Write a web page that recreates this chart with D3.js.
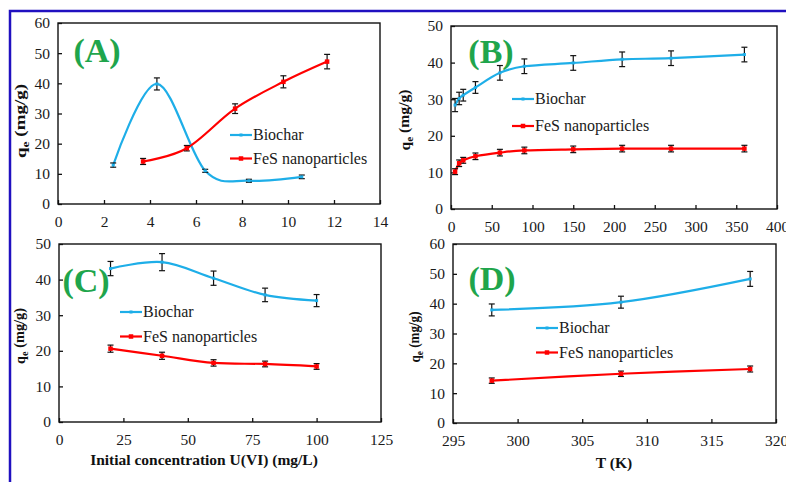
<!DOCTYPE html>
<html>
<head>
<meta charset="utf-8">
<script src="https://cdn.jsdelivr.net/npm/d3@7"></script>
<style>
  body { margin: 0; background: #fff; }
</style>
</head>
<body>
<div id="svganchor"></div>
<script>
let width = 786;
let height = 482;

// (A) initial pH
let phBiochar = [2.4, 4.3, 6.4, 8.3, 10.6];
let qBiocharA = [12.9, 39.8, 11.0, 7.7, 9.0];
let errBiocharA = [0.7, 2.0, 0.5, 0.5, 0.6];
let phFeS = [3.7, 5.6, 7.7, 9.8, 11.7];
let qFeSA = [14.1, 18.5, 31.6, 40.5, 47.2];
let errFeSA = [1.0, 0.9, 1.6, 2.0, 2.4];

// (B) contact time
let timeMin = [5, 10, 15, 30, 60, 90, 150, 210, 270, 360];
let qBiocharB = [28.4, 30.2, 31.1, 33.2, 37.2, 39.0, 39.9, 40.9, 41.2, 42.2];
let errBiocharB = [1.8, 1.7, 1.6, 1.6, 2.0, 2.0, 2.0, 2.0, 2.0, 2.0];
let qFeSB = [10.2, 12.5, 13.3, 14.4, 15.4, 16.0, 16.3, 16.5, 16.5, 16.5];
let errFeSB = [0.8, 0.9, 0.8, 0.9, 0.9, 0.9, 0.9, 0.9, 0.9, 0.9];

// (C) initial concentration
let concU = [20, 40, 60, 80, 100];
let qBiocharC = [43.1, 44.9, 40.4, 35.7, 34.1];
let errBiocharC = [2.0, 2.4, 2.0, 1.9, 1.7];
let qFeSC = [20.6, 18.6, 16.6, 16.3, 15.6];
let errFeSC = [1.0, 1.0, 0.9, 0.8, 0.8];

// (D) temperature
let tempK = [298, 308, 318];
let qBiocharD = [37.9, 40.5, 48.3];
let errBiocharD = [2.0, 2.0, 2.5];
let qFeSD = [14.2, 16.5, 18.1];
let errFeSD = [0.9, 0.9, 1.0];

let seriesNames = ["Biochar", "FeS nanoparticles"];
let panelLabels = ["(A)", "(B)", "(C)", "(D)"];
let xTitles = ["", "", "Initial concentration  U(VI)  (mg/L)", "T (K)"];
let yTitle = "(mg/g)";

let blue = "#1eaee8";
let red = "#ff0000";
let green = "#1fa54c";
let fontFam = "Times New Roman";

function pts(xs, ys, es) {
  return xs.map(function (x, i) { return { x: x, y: ys[i], e: es[i] }; });
}

let panels = [
  { box: [58, 380, 23, 204], xd: [0, 14], xstep: 2, yd: [0, 60], ystep: 10,
    bio: pts(phBiochar, qBiocharA, errBiocharA), fes: pts(phFeS, qFeSA, errFeSA),
    lab: [97, 62], leg: [230, 135], ytx: 21, yty: 121, ytl: 74 },
  { box: [451, 777, 26, 209], xd: [0, 400], xstep: 50, yd: [0, 50], ystep: 10,
    bio: pts(timeMin, qBiocharB, errBiocharB), fes: pts(timeMin, qFeSB, errFeSB),
    lab: [491, 63], leg: [512, 99], ytx: 405, yty: 120, ytl: 61 },
  { box: [59, 381, 244, 422], xd: [0, 125], xstep: 25, yd: [0, 50], ystep: 10,
    bio: pts(concU, qBiocharC, errBiocharC), fes: pts(concU, qFeSC, errFeSC),
    lab: [86, 292], leg: [120, 312], ytx: 20, yty: 336, ytl: 56, xt: [204, 465] },
  { box: [453, 776, 244, 423], xd: [295, 320], xstep: 5, yd: [0, 60], ystep: 10,
    bio: pts(tempK, qBiocharD, errBiocharD), fes: pts(tempK, qFeSD, errFeSD),
    lab: [492, 290], leg: [536, 328], ytx: 415, yty: 337, ytl: 51, xt: [614, 468] }
];

let svg = d3.select("#svganchor").append("svg").attr("width", width).attr("height", height)
  .style("display", "block");

// blue frame (left and top only)
svg.append("path")
  .attr("d", "M10,482V11H786")
  .attr("fill", "none")
  .attr("stroke", "#2010c0")
  .attr("stroke-width", 2.5);

function serifText(sel) {
  return sel.attr("font-family", fontFam).style("font-family", fontFam);
}

panels.forEach(function (p, idx) {
  let [x0, x1, y0, y1] = p.box;
  let xScale = d3.scaleLinear().domain(p.xd).range([x0, x1]);
  let yScale = d3.scaleLinear().domain(p.yd).range([y1, y0]);
  let g = svg.append("g");

  let xAxis = d3.axisBottom(xScale)
    .tickValues(d3.range(p.xd[0], p.xd[1] + 0.001, p.xstep))
    .tickSizeInner(-4).tickSizeOuter(0).tickPadding(12);
  let yAxis = d3.axisLeft(yScale)
    .tickValues(d3.range(p.yd[0], p.yd[1] + 0.001, p.ystep))
    .tickSizeInner(-4).tickSizeOuter(0).tickPadding(8);

  let gx = g.append("g").attr("transform", "translate(0," + y1 + ")").call(xAxis);
  let gy = g.append("g").attr("transform", "translate(" + x0 + ",0)").call(yAxis);
  [gx, gy].forEach(function (a) {
    serifText(a);
    a.select(".domain").remove();
    serifText(a.selectAll("text")).attr("font-size", 15.5).attr("fill", "#1a1a1a");
    a.selectAll("line").attr("stroke", "#111").attr("stroke-width", 1.3);
  });

  // plot box
  g.append("rect")
    .attr("x", x0).attr("y", y0).attr("width", x1 - x0).attr("height", y1 - y0)
    .attr("fill", "none").attr("stroke", "#111").attr("stroke-width", 1.4);

  // y title
  let yt = serifText(g.append("text"))
    .attr("transform", "translate(" + p.ytx + "," + p.yty + ") rotate(-90)")
    .attr("text-anchor", "middle")
    .attr("dy", "0.35em")
    .attr("font-size", 14).attr("font-weight", "bold").attr("fill", "#111")
    .attr("textLength", p.ytl).attr("lengthAdjust", "spacingAndGlyphs");
  yt.append("tspan").text("q");
  yt.append("tspan").attr("font-size", 10).attr("dy", "0.3em").text("e");
  yt.append("tspan").attr("dy", "-0.3em").text(" " + yTitle);

  if (p.xt) {
    serifText(g.append("text"))
      .attr("x", p.xt[0]).attr("y", p.xt[1])
      .attr("text-anchor", "middle")
      .attr("font-size", 15.5).attr("font-weight", "bold").attr("fill", "#111")
      .text(xTitles[idx]);
  }

  let line = d3.line()
    .x(function (d) { return xScale(d.x); })
    .y(function (d) { return yScale(d.y); })
    .curve(d3.curveCatmullRom.alpha(0));

  [[p.bio, blue], [p.fes, red]].forEach(function (s, si) {
    g.append("path")
      .datum(s[0])
      .attr("fill", "none")
      .attr("stroke", s[1])
      .attr("stroke-width", 2.2)
      .attr("d", line);

    // error bars
    let eb = g.selectAll(null).data(s[0]).enter().append("g").attr("stroke", "#111").attr("stroke-width", 1.2);
    eb.append("line")
      .attr("x1", function (d) { return xScale(d.x); })
      .attr("x2", function (d) { return xScale(d.x); })
      .attr("y1", function (d) { return yScale(d.y - d.e); })
      .attr("y2", function (d) { return yScale(d.y + d.e); });
    [-1, 1].forEach(function (sg) {
      eb.append("line")
        .attr("x1", function (d) { return xScale(d.x) - 3; })
        .attr("x2", function (d) { return xScale(d.x) + 3; })
        .attr("y1", function (d) { return yScale(d.y + sg * d.e); })
        .attr("y2", function (d) { return yScale(d.y + sg * d.e); });
    });

    // markers
    let sz = si === 0 ? 3 : 4.5;
    g.selectAll(null).data(s[0]).enter().append("rect")
      .attr("x", function (d) { return xScale(d.x) - sz / 2; })
      .attr("y", function (d) { return yScale(d.y) - sz / 2; })
      .attr("width", sz).attr("height", sz)
      .attr("fill", s[1]);

    // legend
    let ly = p.leg[1] + si * (idx === 0 ? 23.5 : idx === 1 ? 27 : 24.5);
    g.append("line")
      .attr("x1", p.leg[0]).attr("x2", p.leg[0] + 22)
      .attr("y1", ly).attr("y2", ly)
      .attr("stroke", s[1]).attr("stroke-width", 2.2);
    g.append("rect")
      .attr("x", p.leg[0] + 11 - sz / 2).attr("y", ly - sz / 2)
      .attr("width", sz).attr("height", sz).attr("fill", s[1]);
    serifText(g.append("text"))
      .attr("x", p.leg[0] + 23).attr("y", ly + 5)
      .attr("font-size", 16).attr("fill", "#1a1a1a")
      .text(seriesNames[si]);
  });

  // panel label
  serifText(g.append("text"))
    .attr("x", p.lab[0]).attr("y", p.lab[1])
    .attr("text-anchor", "middle")
    .attr("font-size", 34).attr("font-weight", "bold").attr("fill", green)
    .text(panelLabels[idx]);
});
</script>
</body>
</html>
